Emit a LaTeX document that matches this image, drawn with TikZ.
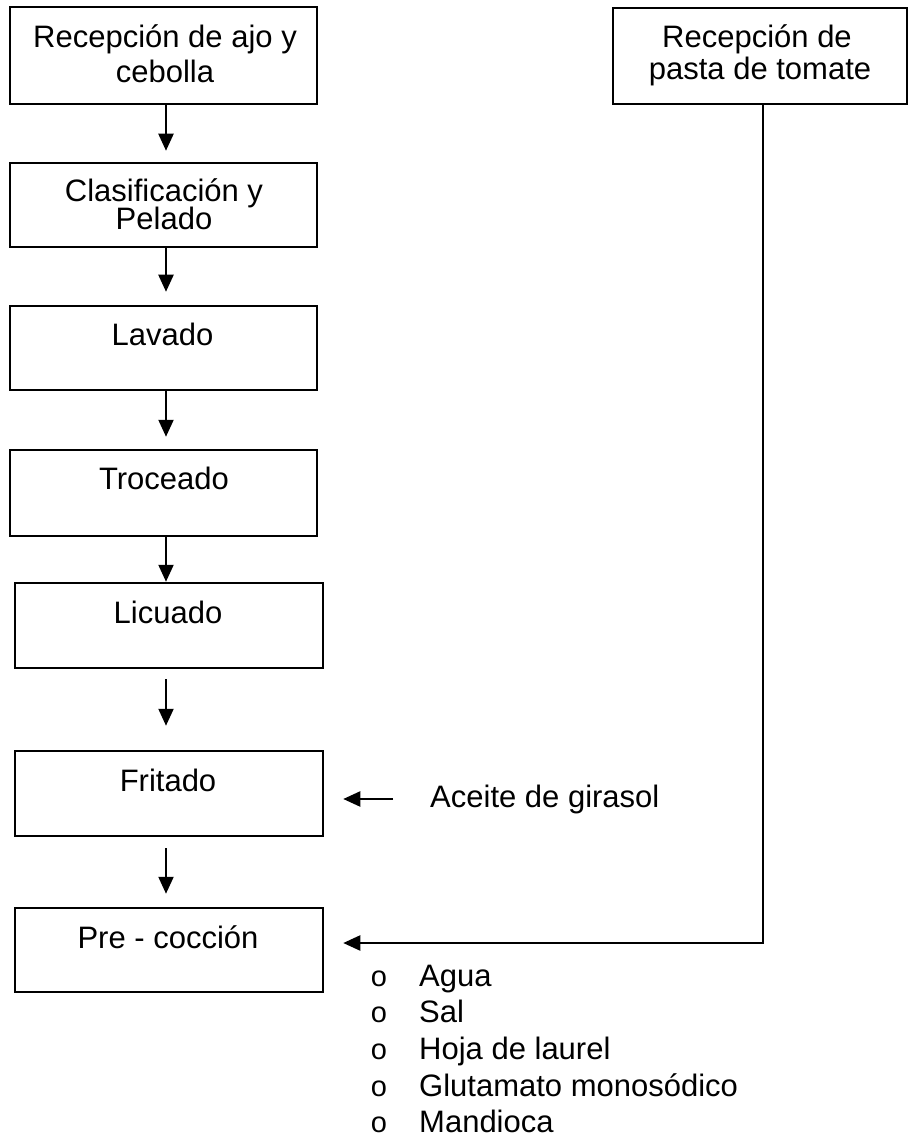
\documentclass[tikz,border=0pt]{standalone}
\usepackage{fontspec}
\setmainfont{Liberation Sans}
\usetikzlibrary{arrows.meta}
\begin{document}
\begin{tikzpicture}[x=1pt,y=-1pt,
  box/.style={draw, line width=2.5pt, rectangle, inner sep=0pt},
  txt/.style={anchor=base, inner sep=0pt, font=\fontsize{31}{36}\selectfont},
  arr/.style={line width=2.2pt, -{Triangle[length=17pt,width=15pt]}},
  bul/.style={anchor=base, inner sep=0pt, font=\fontsize{29}{34}\selectfont}
]
\useasboundingbox (0,0) rectangle (911,1139);

% process boxes
\node[box, minimum width=307pt, minimum height=97pt] (b1) at (163.5,55.5) {};
\node[box, minimum width=307pt, minimum height=84pt] (b2) at (163.5,205) {};
\node[box, minimum width=307pt, minimum height=84pt] (b3) at (163.5,348) {};
\node[box, minimum width=307pt, minimum height=86pt] (b4) at (163.5,493) {};
\node[box, minimum width=308pt, minimum height=85pt] (b5) at (169,625.5) {};
\node[box, minimum width=308pt, minimum height=85pt] (b6) at (169,793.5) {};
\node[box, minimum width=308pt, minimum height=84pt] (b7) at (169,950) {};
\node[box, minimum width=294pt, minimum height=96pt] (r1) at (760,56) {};

% box texts
\node[txt] (t1a) at (165,48) {Recepción de ajo y};
\node[txt] (t1b) at (165,83) {cebolla};
\node[txt] (t2a) at (164,202) {Clasificación y};
\node[txt] (t2b) at (164,230) {Pelado};
\node[txt] (t3) at (162.5,345) {Lavado};
\node[txt] (t4) at (164,489) {Troceado};
\node[txt] (t5) at (168,623) {Licuado};
\node[txt] (t6) at (168,791) {Fritado};
\node[txt] (t7) at (168,948) {Pre - cocción};
\node[txt] (r1a) at (757,48) {Recepción de};
\node[txt] (r1b) at (760,80) {pasta de tomate};

% main flow
\coordinate (ax) at (166,0);
\draw[arr, shorten >=11pt] (b1.south -| ax) -- (b2.north -| ax);
\draw[arr, shorten >=13pt] (b2.south -| ax) -- (b3.north -| ax);
\draw[arr, shorten >=12pt] (b3.south -| ax) -- (b4.north -| ax);
\draw[arr] (b4.south -| ax) -- (b5.north -| ax);
\draw[arr, shorten <=10pt, shorten >=24pt] (b5.south -| ax) -- (b6.north -| ax);
\draw[arr, shorten <=11pt, shorten >=13pt] (b6.south -| ax) -- (b7.north -| ax);

% tomato paste feed
\coordinate (jn) at (763,943);
\draw[arr, shorten >=19pt] (r1.south -| jn) |- (b7.east |- jn);

% sunflower oil feed
\node[txt, anchor=base west] (ac) at (430,807) {Aceite de girasol};
\draw[arr, shorten <=37pt, shorten >=19pt] (ac.west) -- (ac.west -| b6.east);

% added ingredients
\foreach \lbl/\yy [count=\i] in {Agua/986, Sal/1022, Hoja de laurel/1059, Glutamato monosódico/1096, Mandioca/1132} {
  \node[bul] (o\i) at (379,\yy) {o};
  \node[txt, anchor=base west] (i\i) at (419,\yy) {\lbl};
}
\end{tikzpicture}
\end{document}
